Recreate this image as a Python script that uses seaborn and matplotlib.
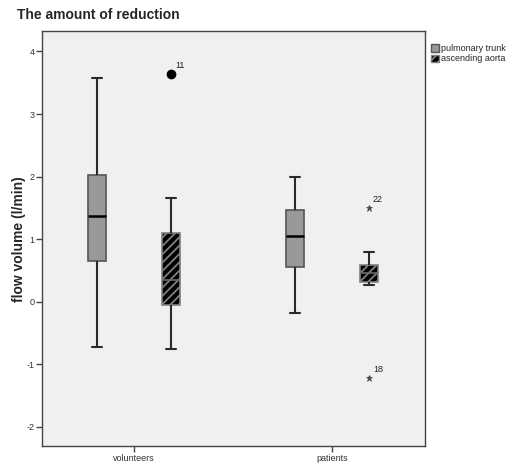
import numpy as np
import pandas as pd
import matplotlib
matplotlib.use("Agg")
import matplotlib.pyplot as plt
import seaborn as sns
from matplotlib.patches import Patch

# ---- data ----
groups = ["volunteers", "patients"]
vessels = ["pulmonary trunk", "ascending aorta"]
vol_pulmonary = [-0.73, 0.20, 0.65, 1.00, 1.37, 1.70, 2.03, 2.60, 3.58]
vol_aorta = [-0.76, -0.30, -0.05, 0.15, 0.35, 0.70, 1.09, 1.65, 3.64]
pat_pulmonary = [-0.19, 0.30, 0.56, 0.80, 1.05, 1.30, 1.47, 1.80, 2.00]
pat_aorta = [-1.23, 0.27, 0.315, 0.38, 0.45, 0.52, 0.59, 0.79, 1.49]
outlier_values = [3.64, 1.49, -1.23]
outlier_ids = ["11", "22", "18"]
yticks = [-2, -1, 0, 1, 2, 3, 4]

rows = []
for g, v, vals in [("volunteers", "pulmonary trunk", vol_pulmonary),
                   ("volunteers", "ascending aorta", vol_aorta),
                   ("patients", "pulmonary trunk", pat_pulmonary),
                   ("patients", "ascending aorta", pat_aorta)]:
    for x in vals:
        rows.append({"group": g, "vessel": v, "flow": x})
df = pd.DataFrame(rows)

sns.set_style("white")
plt.rcParams["font.family"] = ["Liberation Sans", "DejaVu Sans"]
plt.rcParams["hatch.linewidth"] = 1.3

fig = plt.figure(figsize=(5.11, 4.65), dpi=100)
ax = fig.add_axes([0.0822, 0.0409, 0.7495, 0.8914])
ax.set_facecolor("#f0f0f0")

edge = "#555555"
line_c = "#2a2a2a"
hatch_c = "#808080"
palette = {"pulmonary trunk": "#999999", "ascending aorta": "#000000"}

sns.boxplot(data=df, x="group", y="flow", hue="vessel", order=groups,
            hue_order=vessels, palette=palette, saturation=1,
            width=0.744, gap=0.75, whis=1.5, linewidth=1.5,
            linecolor=line_c, capwidths=0.05,
            medianprops=dict(color="black", linewidth=1.8),
            boxprops=dict(edgecolor=edge, linewidth=1.2),
            flierprops=dict(marker="o", markersize=6, markerfacecolor="black",
                            markeredgecolor="black"),
            legend=False, ax=ax)

# hatch the aorta boxes
for p in ax.patches:
    fc = p.get_facecolor()
    if fc[0] < 0.1 and fc[1] < 0.1 and fc[2] < 0.1:
        p.set_hatch("////")
        p.set_edgecolor(hatch_c)

# medians inside hatched boxes are barely visible in the original
for ln in ax.lines:
    xs = np.asarray(ln.get_xdata(), dtype=float)
    ys = np.asarray(ln.get_ydata(), dtype=float)
    if ln.get_marker() in ("None", "", None) and len(xs) == 2 \
            and abs(ys[0] - ys[1]) < 1e-9 and abs(abs(xs[1] - xs[0]) - 0.093) < 0.01 \
            and xs.mean() - round(xs.mean()) > 0.05:
        ln.set_color("#6a6a6a")
        ln.set_linewidth(1.2)

# outlier markers and labels
for ln in ax.lines:
    if ln.get_marker() in ("None", "", None):
        continue
    xs = np.asarray(ln.get_xdata(), dtype=float)
    ys = np.asarray(ln.get_ydata(), dtype=float)
    if len(xs) == 0:
        continue
    if xs.mean() > 0.5:
        ln.set_marker("*")
        ln.set_markersize(5)
        ln.set_markerfacecolor("#444444")
        ln.set_markeredgecolor("#444444")
        ln.set_markeredgewidth(0.5)
    for xv, yv in zip(xs, ys):
        for ov, oid in zip(outlier_values, outlier_ids):
            if abs(ov - yv) < 1e-6:
                ax.annotate(oid, (xv, yv), xytext=(3, 3),
                            textcoords="offset points", ha="left",
                            va="bottom", fontsize=6.5, color="#222222")

ax.set_ylim(-2.31, 4.32)
ax.set_xlim(-0.465, 1.47)
ax.set_yticks(yticks)
ax.set_yticklabels([str(t) for t in yticks])
ax.tick_params(axis="both", direction="out", length=4, width=1,
               color="#444444", labelsize=6.5, labelcolor="#333333", pad=1.5,
               left=True, bottom=True)
for s in ax.spines.values():
    s.set_color("#444444")
    s.set_linewidth(1.0)

ax.set_xlabel("")
ax.set_ylabel("flow volume (l/min)", fontsize=10, fontweight="bold",
              labelpad=0.5)

handles = [Patch(facecolor="#999999", edgecolor=edge, label=vessels[0]),
           Patch(facecolor="black", edgecolor=hatch_c, hatch="////",
                 label=vessels[1])]
ax.legend(handles=handles, loc="upper left", bbox_to_anchor=(1.0, 0.985),
          frameon=False, fontsize=6.5, handlelength=0.9, handleheight=0.9,
          handletextpad=0.2, labelspacing=0.15, borderaxespad=0.3)

fig.text(0.033, 0.968, "The amount of reduction", fontsize=10,
         fontweight="bold", va="center", ha="left")

fig.savefig("out.png", dpi=100)
